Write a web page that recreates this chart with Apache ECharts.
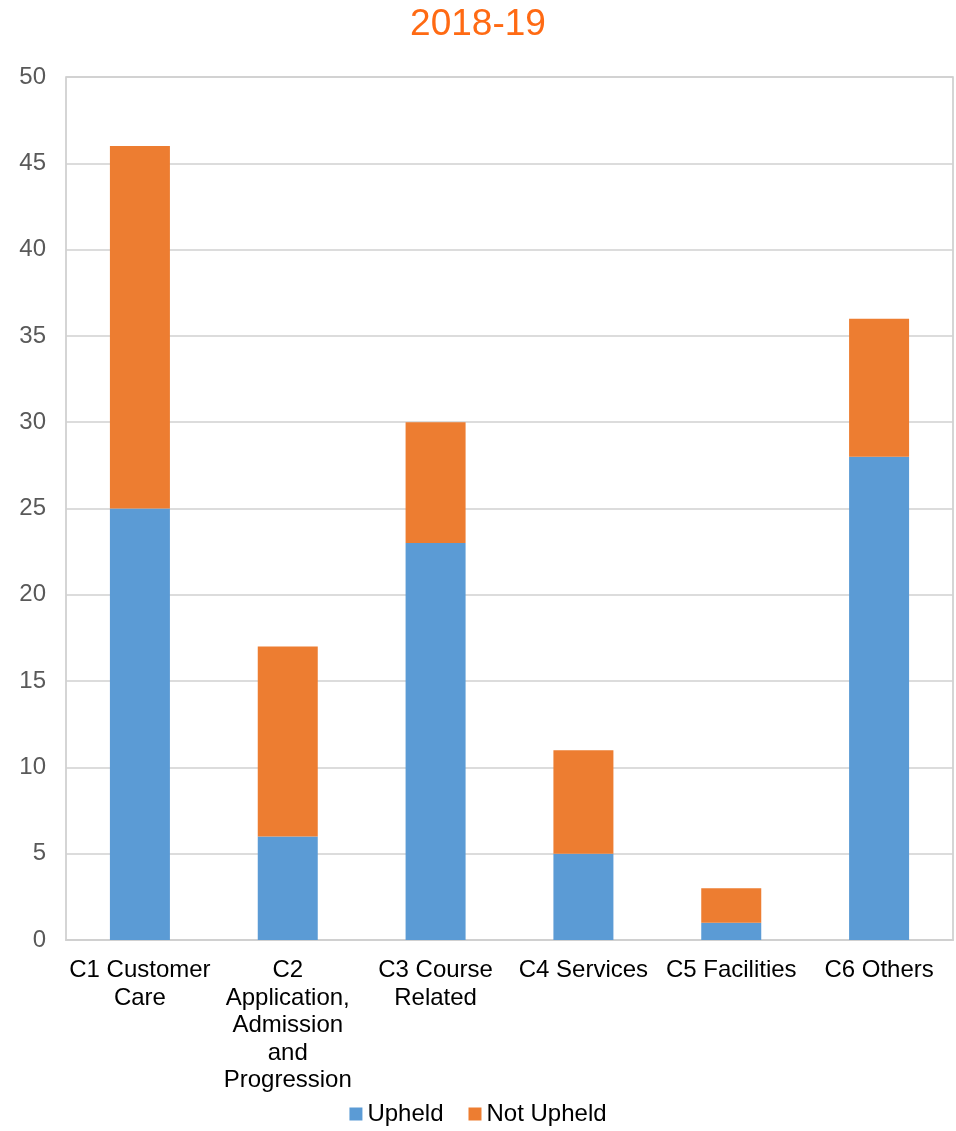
<!DOCTYPE html>
<html>
<head>
<meta charset="utf-8">
<script src="https://cdn.jsdelivr.net/npm/echarts@6/dist/echarts.min.js"></script>
<style>
  html, body { margin: 0; padding: 0; background: #fff; }
  #main { width: 956px; height: 1131px; }
</style>
</head>
<body>
<div id="main"></div>
<script>
// 分类（换行与原图一致）
const categories = [
  'C1 Customer\nCare',
  'C2\nApplication,\nAdmission\nand\nProgression',
  'C3 Course\nRelated',
  'C4 Services',
  'C5 Facilities',
  'C6 Others'
]
const upheld = [25, 6, 23, 5, 1, 28]
const notUpheld = [21, 11, 7, 6, 2, 8]
const yTicks = [0, 5, 10, 15, 20, 25, 30, 35, 40, 45, 50]

const chart = echarts.init(document.getElementById('main'))
const option = {
  animation: false,
  textStyle: { fontFamily: 'Liberation Sans, Arial, sans-serif' },
  title: {
    text: '2018-19',
    left: 'center',
    top: 1,
    textStyle: { color: '#FF6A13', fontSize: 37, fontWeight: 'normal' }
  },
  legend: {
    bottom: 0,
    left: 'center',
    itemWidth: 13,
    itemHeight: 13,
    itemGap: 25,
    icon: 'rect',
    textStyle: { fontSize: 24, color: '#000' },
    data: ['Upheld', 'Not Upheld']
  },
  grid: {
    left: 66,
    right: 3,
    top: 77,
    bottom: 191,
    show: true,
    borderColor: '#c8c8c8',
    borderWidth: 1.5
  },
  xAxis: {
    type: 'category',
    data: categories,
    axisLine: { lineStyle: { color: '#d0d0d0', width: 2 } },
    axisTick: { show: false },
    axisLabel: {
      interval: 0,
      margin: 17,
      fontSize: 24,
      lineHeight: 27.5,
      color: '#000'
    }
  },
  yAxis: {
    type: 'value',
    min: yTicks[0],
    max: yTicks[yTicks.length - 1],
    interval: 5,
    axisLine: { show: false },
    axisTick: { show: false },
    axisLabel: { fontSize: 24, color: '#595959', margin: 20 },
    splitLine: { lineStyle: { color: '#d0d0d0', width: 1.5 } }
  },
  series: [
    {
      name: 'Upheld',
      type: 'bar',
      stack: 'total',
      barWidth: 60,
      data: upheld,
      itemStyle: { color: '#5B9BD5' }
    },
    {
      name: 'Not Upheld',
      type: 'bar',
      stack: 'total',
      barWidth: 60,
      data: notUpheld,
      itemStyle: { color: '#ED7D31' }
    }
  ]
}
chart.setOption(option)
</script>
</body>
</html>
